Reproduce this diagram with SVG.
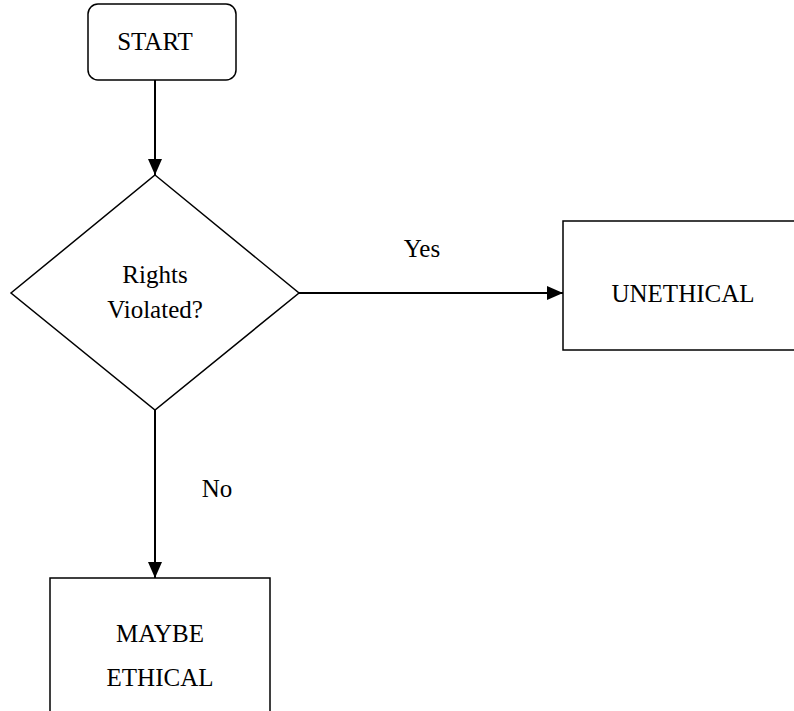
<svg xmlns="http://www.w3.org/2000/svg" width="794" height="711" viewBox="0 0 794 711">
<style>
.shape{fill:#fff;stroke:#000;stroke-width:1.5}
.conn{fill:none;stroke:#000;stroke-width:2}
text{font-family:"Liberation Serif","Times New Roman",serif;font-size:25px;fill:#000;text-anchor:middle}
</style>
<defs>
<marker id="arr" markerWidth="10" markerHeight="10" refX="10" refY="5" orient="auto" markerUnits="userSpaceOnUse">
<path d="M0,0 L10,5 L0,10 Z" fill="#000" transform="scale(1)"/>
</marker>
<marker id="arrow" viewBox="0 0 16 14" markerWidth="16" markerHeight="14" refX="16" refY="7" orient="auto" markerUnits="userSpaceOnUse">
<path d="M0,0 L16,7 L0,14 Z" fill="#000"/>
</marker>
</defs>
<rect width="794" height="711" fill="#fff"/>
<g id="start">
<rect class="shape" x="88" y="4" width="148" height="76" rx="10" ry="10"/>
<text x="155" y="50">START</text>
</g>
<g id="decision">
<polygon class="shape" points="155,175 299,293 155,410 11,293"/>
<text x="155" y="283">Rights</text>
<text x="155" y="318">Violated?</text>
</g>
<g id="unethical">
<rect class="shape" x="563" y="221" width="240" height="129"/>
<text x="683" y="302">UNETHICAL</text>
</g>
<g id="maybe">
<rect class="shape" x="50" y="578" width="220" height="150"/>
<text x="160" y="642">MAYBE</text>
<text x="160" y="686">ETHICAL</text>
</g>
<g id="connectors">
<line class="conn" x1="155" y1="80" x2="155" y2="175" marker-end="url(#arrow)"/>
<line class="conn" x1="299" y1="293" x2="563" y2="293" marker-end="url(#arrow)"/>
<line class="conn" x1="155" y1="410" x2="155" y2="578" marker-end="url(#arrow)"/>
<text x="422" y="257">Yes</text>
<text x="217" y="497">No</text>
</g>
</svg>
